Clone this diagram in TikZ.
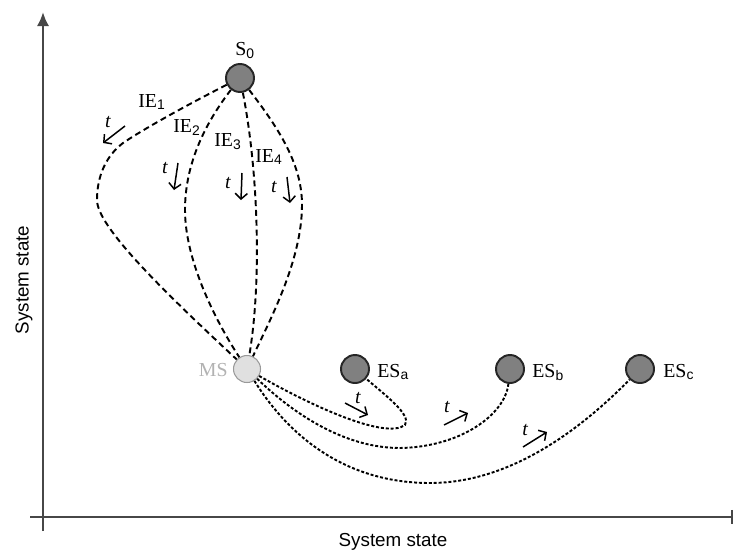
\documentclass[tikz,border=0pt]{standalone}
\usepackage{fontspec}
\setmainfont{Liberation Serif}
\setsansfont{Liberation Sans}
\usetikzlibrary{arrows.meta}

\newcommand{\lblsub}[2]{#1\textsubscript{\sffamily #2}}

\begin{document}
\begin{tikzpicture}[x=0.02cm,y=-0.02cm,
  state/.style={circle,draw=black!85,line width=1.1pt,fill=black!50,
    minimum size=0.56cm,inner sep=0pt},
  midstate/.style={circle,draw=black!40,line width=0.6pt,fill=black!12,
    minimum size=0.54cm,inner sep=0pt},
  lbl/.style={font=\fontsize{11.3}{13}\selectfont,inner sep=0pt},
  tlbl/.style={font=\itshape\fontsize{11.3}{13}\selectfont,inner sep=0pt},
  axlbl/.style={font=\sffamily\fontsize{10.7}{12}\selectfont,inner sep=0pt},
  ie/.style={line width=1.1pt,dash pattern=on 3.4pt off 2.2pt},
  es/.style={line width=1.1pt,dash pattern=on 1.7pt off 1.1pt},
  tarrow/.style={line width=0.85pt,-{Straight Barb[length=3.2pt,width=7pt]}},
  axis/.style={line width=1.4pt,draw=black!72}]
\useasboundingbox (0,0) rectangle (733,552);

\coordinate (O) at (43,517);
\coordinate (Ytop) at (43,12);
\coordinate (Ybot) at (43,531);
\coordinate (Xleft) at (30,517);
\coordinate (Xright) at (733,517);
\draw[axis,-{Latex[length=8pt,width=7pt]}] (Ybot) -- (Ytop);
\draw[axis,-{Bar[width=8pt]}] (Xleft) -- (Xright);
\node[axlbl] (xlab) at (393,542) {System state};
\node[axlbl,rotate=90] (ylab) at (24,280) {System state};

\node[state] (S0) at (240,78) {};
\node[lbl,anchor=base west] (S0l) at (235,55) {\lblsub{S}{0}};
\node[midstate] (MS) at (247,369) {};
\node[lbl,anchor=base east,text=black!30] (MSl) at (228,376) {MS};
\node[state] (ESa) at (355,369) {};
\node[lbl,anchor=base west] (ESal) at (377,377) {\lblsub{ES}{a}};
\node[state] (ESb) at (510,369) {};
\node[lbl,anchor=base west] (ESbl) at (532,377) {\lblsub{ES}{b}};
\node[state] (ESc) at (640,369) {};
\node[lbl,anchor=base west] (EScl) at (663,377) {\lblsub{ES}{c}};

\node[lbl,anchor=base west] (IE1) at (138,107) {\lblsub{IE}{1}};
\node[lbl,anchor=base west] (IE2) at (173,132) {\lblsub{IE}{2}};
\node[lbl,anchor=base west] (IE3) at (214,146) {\lblsub{IE}{3}};
\node[lbl,anchor=base west] (IE4) at (255,162) {\lblsub{IE}{4}};

\draw[ie] (S0) .. controls (185,106) and (142,130) .. (123,143)
  .. controls (106,156) and (97,176) .. (97,200)
  .. controls (97,226) and (160,288) .. (MS);
\draw[ie] (S0) .. controls (200,130) and (185,170) .. (185,210)
  .. controls (185,260) and (215,320) .. (MS);
\draw[ie] (S0) .. controls (258,170) and (262,280) .. (MS);
\draw[ie] (S0) .. controls (280,130) and (302,165) .. (302,205)
  .. controls (302,260) and (270,320) .. (MS);

\draw[es] (MS) .. controls (310,405) and (385,440) .. (405,425)
  .. controls (412,415) and (385,395) .. (ESa);
\draw[es] (MS) .. controls (300,420) and (350,448) .. (400,448)
  .. controls (460,447) and (505,415) .. (ESb);
\draw[es] (MS) .. controls (285,430) and (340,483) .. (430,483)
  .. controls (510,483) and (580,430) .. (ESc);

\coordinate (t1a) at (125,126); \coordinate (t1b) at (103,143);
\coordinate (t2a) at (178,163); \coordinate (t2b) at (174,190);
\coordinate (t3a) at (242,173); \coordinate (t3b) at (241,200);
\coordinate (t4a) at (287,177); \coordinate (t4b) at (290,203);
\coordinate (t5a) at (345,403); \coordinate (t5b) at (368,415);
\coordinate (t6a) at (444,425); \coordinate (t6b) at (468,413);
\coordinate (t7a) at (523,447); \coordinate (t7b) at (547,432);
\draw[tarrow] (t1a) -- (t1b);
\draw[tarrow] (t2a) -- (t2b);
\draw[tarrow] (t3a) -- (t3b);
\draw[tarrow] (t4a) -- (t4b);
\draw[tarrow] (t5a) -- (t5b);
\draw[tarrow] (t6a) -- (t6b);
\draw[tarrow] (t7a) -- (t7b);
\node[tlbl] (t1) at (108,122) {t};
\node[tlbl] (t2) at (165,168) {t};
\node[tlbl] (t3) at (228,183) {t};
\node[tlbl] (t4) at (274,187) {t};
\node[tlbl] (t5) at (358,398) {t};
\node[tlbl] (t6) at (447,407) {t};
\node[tlbl] (t7) at (525,430) {t};
\end{tikzpicture}
\end{document}
